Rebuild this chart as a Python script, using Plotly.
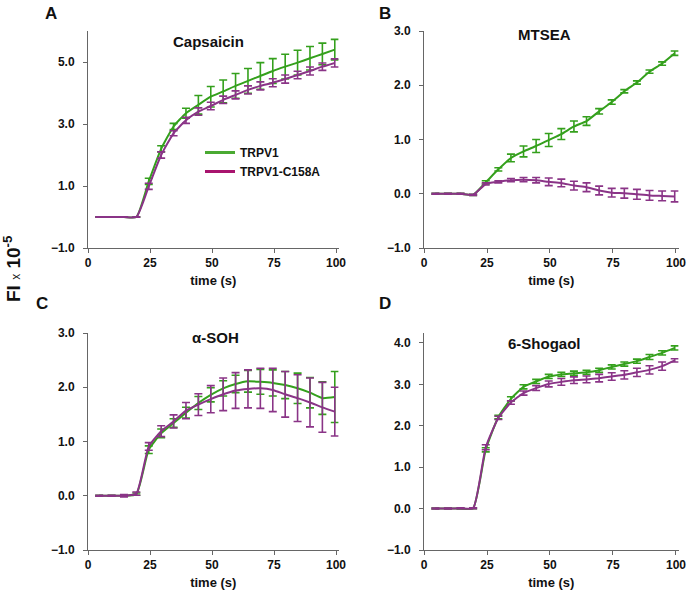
import plotly.graph_objects as go

W, H = 691, 591

time_s = [4.5, 9.5, 14.5, 19.5, 24.5, 29.5, 34.5, 39.5, 44.5, 49.5,
          54.5, 59.5, 64.5, 69.5, 74.5, 79.5, 84.5, 89.5, 94.5, 99.5]

# Panel A: Capsaicin
capsaicin_wt = [0, 0, 0, 0, 1.15, 2.2, 2.92, 3.35, 3.62, 3.88, 4.05, 4.23, 4.39, 4.55, 4.71, 4.85, 4.98, 5.12, 5.26, 5.4]
capsaicin_wt_err = [0.01, 0.01, 0.01, 0.01, 0.1, 0.1, 0.1, 0.16, 0.3, 0.33, 0.37, 0.4, 0.4, 0.43, 0.4, 0.4, 0.4, 0.38, 0.35, 0.33]
capsaicin_mut = [0, 0, 0, 0, 0.99, 2.0, 2.7, 3.12, 3.4, 3.58, 3.78, 3.94, 4.1, 4.23, 4.33, 4.45, 4.58, 4.71, 4.85, 4.97]
capsaicin_mut_err = [0.01, 0.01, 0.01, 0.01, 0.1, 0.1, 0.08, 0.1, 0.12, 0.12, 0.12, 0.13, 0.13, 0.13, 0.13, 0.13, 0.12, 0.13, 0.12, 0.13]

# Panel B: MTSEA
mtsea_wt = [0, 0, 0, -0.02, 0.21, 0.45, 0.66, 0.78, 0.88, 0.99, 1.1, 1.24, 1.34, 1.52, 1.69, 1.89, 2.05, 2.25, 2.4, 2.59]
mtsea_wt_err = [0.01, 0.01, 0.01, 0.01, 0.03, 0.03, 0.07, 0.1, 0.12, 0.12, 0.1, 0.1, 0.08, 0.05, 0.04, 0.03, 0.03, 0.03, 0.03, 0.04]
mtsea_mut = [0, 0, 0, -0.02, 0.18, 0.22, 0.25, 0.26, 0.25, 0.22, 0.2, 0.15, 0.12, 0.06, 0.02, 0.01, -0.01, -0.03, -0.04, -0.05]
mtsea_mut_err = [0.01, 0.01, 0.01, 0.01, 0.02, 0.02, 0.03, 0.04, 0.05, 0.07, 0.07, 0.08, 0.08, 0.08, 0.08, 0.09, 0.09, 0.09, 0.09, 0.1]

# Panel C: alpha-SOH
soh_wt = [0, 0, 0, 0.03, 0.85, 1.15, 1.34, 1.53, 1.71, 1.86, 1.98, 2.06, 2.11, 2.1, 2.08, 2.04, 1.98, 1.9, 1.8, 1.82]
soh_wt_err = [0.01, 0.01, 0.01, 0.02, 0.07, 0.08, 0.08, 0.1, 0.12, 0.13, 0.14, 0.16, 0.2, 0.23, 0.24, 0.25, 0.28, 0.28, 0.3, 0.47]
soh_mut = [0, 0, 0, 0.04, 0.91, 1.19, 1.37, 1.57, 1.68, 1.78, 1.87, 1.94, 1.97, 1.98, 1.95, 1.87, 1.8, 1.72, 1.63, 1.55]
soh_mut_err = [0.01, 0.01, 0.02, 0.03, 0.07, 0.1, 0.12, 0.15, 0.2, 0.25, 0.3, 0.33, 0.35, 0.37, 0.4, 0.42, 0.43, 0.45, 0.46, 0.45]

# Panel D: 6-Shogaol
shogaol_wt = [0, 0, 0, 0.01, 1.42, 2.21, 2.65, 2.94, 3.07, 3.19, 3.24, 3.27, 3.29, 3.34, 3.42, 3.49, 3.56, 3.66, 3.76, 3.88]
shogaol_wt_err = [0.01, 0.01, 0.01, 0.01, 0.05, 0.04, 0.05, 0.05, 0.05, 0.05, 0.05, 0.05, 0.05, 0.05, 0.05, 0.05, 0.05, 0.06, 0.05, 0.05]
shogaol_mut = [0, 0, 0.01, 0.01, 1.48, 2.19, 2.56, 2.79, 2.91, 3.01, 3.06, 3.1, 3.12, 3.15, 3.19, 3.23, 3.29, 3.35, 3.44, 3.58]
shogaol_mut_err = [0.01, 0.01, 0.01, 0.01, 0.06, 0.04, 0.04, 0.05, 0.06, 0.07, 0.08, 0.08, 0.08, 0.09, 0.09, 0.1, 0.1, 0.1, 0.1, 0.04]

panel_titles = ["Capsaicin", "MTSEA", "α-SOH", "6-Shogaol"]
panel_letters = ["A", "B", "C", "D"]
series_names = ["TRPV1", "TRPV1-C158A"]
x_ticks = [0, 25, 50, 75, 100]
y_ticks = [[-1, 1, 3, 5], [-1, 0, 1, 2, 3], [-1, 0, 1, 2, 3], [-1, 0, 1, 2, 3, 4]]
y_ranges = [[-1, 6], [-1, 3], [-1, 3], [-1, 4.24]]

panels = [
    (capsaicin_wt, capsaicin_wt_err, capsaicin_mut, capsaicin_mut_err),
    (mtsea_wt, mtsea_wt_err, mtsea_mut, mtsea_mut_err),
    (soh_wt, soh_wt_err, soh_mut, soh_mut_err),
    (shogaol_wt, shogaol_wt_err, shogaol_mut, shogaol_mut_err),
]

GREEN = "#34a01c"
PURPLE = "#8a3487"
LEG_GREEN = "#4aaa32"
LEG_MAG = "#a8146e"
AXC = "#666666"
FONT = "Liberation Sans, Arial, sans-serif"

def px_x(p):
    return p / W

def px_y(p):
    return 1 - p / H

# domains (pixel-derived)
x_dom = [[px_x(88), px_x(338.5)], [px_x(424), px_x(678.5)]]
y_dom = [[px_y(248), px_y(31)], [px_y(550), px_y(333)]]
grid = [(0, 0), (1, 0), (0, 1), (1, 1)]

fig = go.Figure()

for i, (wt, wte, mu, mue) in enumerate(panels):
    ax = "" if i == 0 else str(i + 1)
    for vals, errs, col in ((wt, wte, GREEN), (mu, mue, PURPLE)):
        fig.add_trace(go.Scatter(
            x=time_s, y=vals, mode="lines",
            line=dict(color=col, width=2, shape="spline", smoothing=0.5),
            error_y=dict(type="data", array=errs, visible=True, color=col,
                         thickness=1.6, width=4),
            showlegend=False, xaxis="x" + ax, yaxis="y" + ax,
        ))

# legend-only traces
for name, col in zip(series_names, (LEG_GREEN, LEG_MAG)):
    fig.add_trace(go.Scatter(x=[None], y=[None], mode="lines", name=name,
                             line=dict(color=col, width=3), showlegend=True))

layout = dict(
    template="none",
    width=W, height=H, margin=dict(l=0, r=0, t=0, b=0, autoexpand=False),
    paper_bgcolor="white", plot_bgcolor="white",
    font=dict(family=FONT, color="#111111"),
    showlegend=True,
    legend=dict(x=px_x(200), y=px_y(138), xanchor="left", yanchor="top",
                bgcolor="rgba(0,0,0,0)", tracegroupgap=0, borderwidth=0,
                font=dict(size=12, family=FONT, weight="bold", color="#111111"),
                itemwidth=30),
)

for i, (c, r) in enumerate(grid):
    ax = "" if i == 0 else str(i + 1)
    common = dict(showline=True, linecolor=AXC, linewidth=1, ticks="outside",
                  ticklen=4, tickcolor=AXC, showgrid=False, zeroline=False,
                  automargin=False,
                  tickfont=dict(size=12, family=FONT, weight="bold", color="#111111"))
    layout["xaxis" + ax] = dict(
        domain=x_dom[c], range=[0, 101], tickvals=x_ticks,
        anchor="y" + ax,
        title=dict(text="time (s)", font=dict(size=13, family=FONT, weight="bold", color="#111111"),
                   standoff=6),
        **common)
    layout["yaxis" + ax] = dict(
        domain=y_dom[r], range=y_ranges[i], tickvals=y_ticks[i],
        tickformat=".1f", anchor="x" + ax, ticklabelstandoff=6, **common)

fig.update_layout(**layout)

annotations = []
title_pos = [(208, 41), (544, 35), (215, 337), (544, 343)]
for t, (xp, yp) in zip(panel_titles, title_pos):
    annotations.append(dict(text=t, x=px_x(xp), y=px_y(yp), xref="paper", yref="paper",
                            showarrow=False, xanchor="center", yanchor="middle",
                            font=dict(size=15, family=FONT, weight="bold", color="#111111")))
letter_pos = [(51, 13), (385, 13), (42, 303), (385, 303)]
for t, (xp, yp) in zip(panel_letters, letter_pos):
    annotations.append(dict(text=t, x=px_x(xp), y=px_y(yp), xref="paper", yref="paper",
                            showarrow=False, xanchor="center", yanchor="middle",
                            font=dict(size=17, family=FONT, weight="bold", color="#111111")))
annotations.append(dict(
    text="<b>FI</b> <span style='font-size:12px'>x</span> <b>10<sup>-5</sup></b>",
    x=px_x(12), y=px_y(269), xref="paper", yref="paper", showarrow=False,
    textangle=-90, xanchor="center", yanchor="middle",
    font=dict(size=19, family=FONT, color="#111111")))
fig.update_layout(annotations=annotations)

fig.write_html("out.html", config={"displayModeBar": False},
               post_script="document.body.style.margin='0';document.body.style.padding='0';")
